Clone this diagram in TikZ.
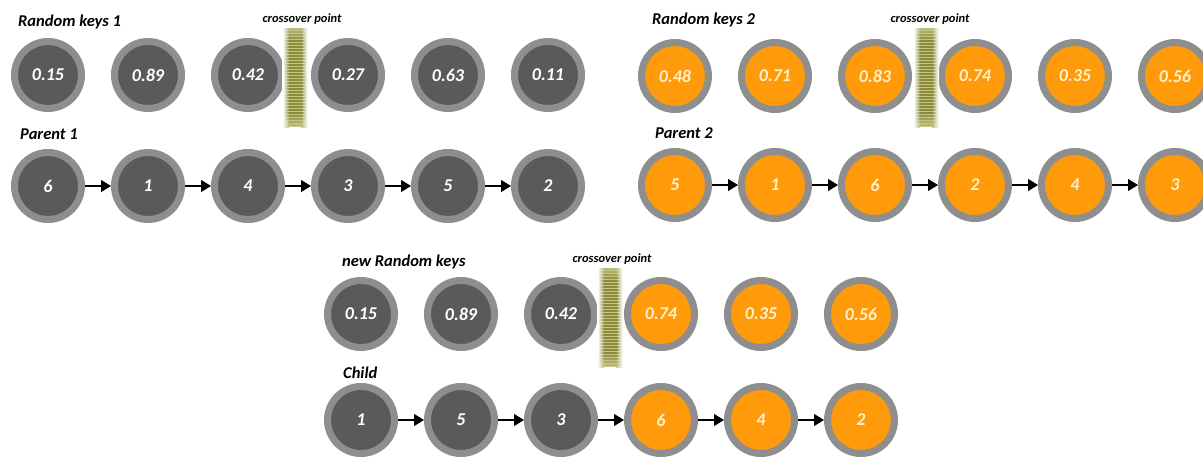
\documentclass[tikz,border=0pt]{standalone}
\usepackage{fontspec}
\setmainfont{Carlito}
\usepackage{tikz}
\usetikzlibrary{positioning,arrows.meta}

\definecolor{keydark}{HTML}{5A5A5A}
\definecolor{keyring}{HTML}{8E8E8E}
\definecolor{keyorange}{HTML}{FF9A0A}
\definecolor{keycream}{HTML}{FFF1CC}
\definecolor{barolive}{HTML}{8A8A38}
\definecolor{barlight}{HTML}{C4C488}

\begin{document}
\begin{tikzpicture}[x = 1pt, y = -1pt, >= {Triangle[length = 10pt, width = 12pt]}, node distance = 100pt, on grid,
	gene/.style = {circle, minimum size = 67pt, inner sep = 0pt, draw = keyring, line width = 7pt, font = \fontsize{18}{18}\selectfont\bfseries\itshape},
	dark/.style = {gene, fill = keydark, text = white},
	orange/.style = {gene, fill = keyorange, text = keycream},
	title/.style = {anchor = west, inner sep = 0pt, font = \fontsize{16.5}{16.5}\selectfont\bfseries\itshape},
	cut/.style = {inner sep = 0pt, font = \fontsize{12.5}{12.5}\selectfont\bfseries\itshape}]
	\useasboundingbox (0,0) rectangle (1203,456);

	% first parent
	\node[title] (ta) at (18,22) {Random keys 1};
	\node[title] (tpa) at (20,134) {Parent 1};
	\node[dark] (ka0) at (48,75) {0.15};
	\node[dark] (ka1) [right = of ka0] {0.89};
	\node[dark] (ka2) [right = of ka1] {0.42};
	\node[dark] (ka3) [right = of ka2] {0.27};
	\node[dark] (ka4) [right = of ka3] {0.63};
	\node[dark] (ka5) [right = of ka4] {0.11};
	\node[dark] (pa0) at (48,186) {6};
	\node[dark] (pa1) [right = of pa0] {1};
	\node[dark] (pa2) [right = of pa1] {4};
	\node[dark] (pa3) [right = of pa2] {3};
	\node[dark] (pa4) [right = of pa3] {5};
	\node[dark] (pa5) [right = of pa4] {2};

	% second parent
	\node[title] (tb) at (652,20) {Random keys 2};
	\node[title] (tpb) at (655,133) {Parent 2};
	\node[orange] (kb0) at (675,76) {0.48};
	\node[orange] (kb1) [right = of kb0] {0.71};
	\node[orange] (kb2) [right = of kb1] {0.83};
	\node[orange] (kb3) [right = of kb2] {0.74};
	\node[orange] (kb4) [right = of kb3] {0.35};
	\node[orange] (kb5) [right = of kb4] {0.56};
	\node[orange] (pb0) at (675,185) {5};
	\node[orange] (pb1) [right = of pb0] {1};
	\node[orange] (pb2) [right = of pb1] {6};
	\node[orange] (pb3) [right = of pb2] {2};
	\node[orange] (pb4) [right = of pb3] {4};
	\node[orange] (pb5) [right = of pb4] {3};

	% offspring
	\node[title] (tc) at (342,262) {new Random keys};
	\node[title] (tpc) at (343,373) {Child};
	\node[dark] (kc0) at (361,314) {0.15};
	\node[dark] (kc1) [right = of kc0] {0.89};
	\node[dark] (kc2) [right = of kc1] {0.42};
	\node[orange] (kc3) [right = of kc2] {0.74};
	\node[orange] (kc4) [right = of kc3] {0.35};
	\node[orange] (kc5) [right = of kc4] {0.56};
	\node[dark] (pc0) at (361,420) {1};
	\node[dark] (pc1) [right = of pc0] {5};
	\node[dark] (pc2) [right = of pc1] {3};
	\node[orange] (pc3) [right = of pc2] {6};
	\node[orange] (pc4) [right = of pc3] {4};
	\node[orange] (pc5) [right = of pc4] {2};

	% sequence arrows
	\foreach \r in {pa,pb,pc}
		\foreach \i/\j in {0/1,1/2,2/3,3/4,4/5}
			\draw[->, line width = 1.2pt] (\r\i.east) -- (\r\j.west);

	% crossover markers
	\node[cut] (xa) at (302,19) {crossover point};
	\node[cut] (xb) at (930,19) {crossover point};
	\node[cut] (xc) at (612,259) {crossover point};
	\foreach \bx/\by in {295/28, 926/28, 610/268} {
		\fill[barlight] (\bx-6,\by) rectangle (\bx+6,\by+99);
		\shade[left color = white, right color = barlight] (\bx-13,\by) rectangle (\bx-6,\by+99);
		\shade[left color = barlight, right color = white] (\bx+6,\by) rectangle (\bx+13,\by+99);
		\foreach \k [evaluate = \k as \op using {min(1,(\k+1)/5,(33-\k)/5)}] in {0,...,32} {
			\fill[barolive, opacity = \op] (\bx-6,\by+3*\k) rectangle (\bx+6,\by+3*\k+1.6);
			\shade[left color = white, right color = barolive, opacity = \op] (\bx-12,\by+3*\k) rectangle (\bx-6,\by+3*\k+1.6);
			\shade[left color = barolive, right color = white, opacity = \op] (\bx+6,\by+3*\k) rectangle (\bx+12,\by+3*\k+1.6);
		}
	}
\end{tikzpicture}
\end{document}
